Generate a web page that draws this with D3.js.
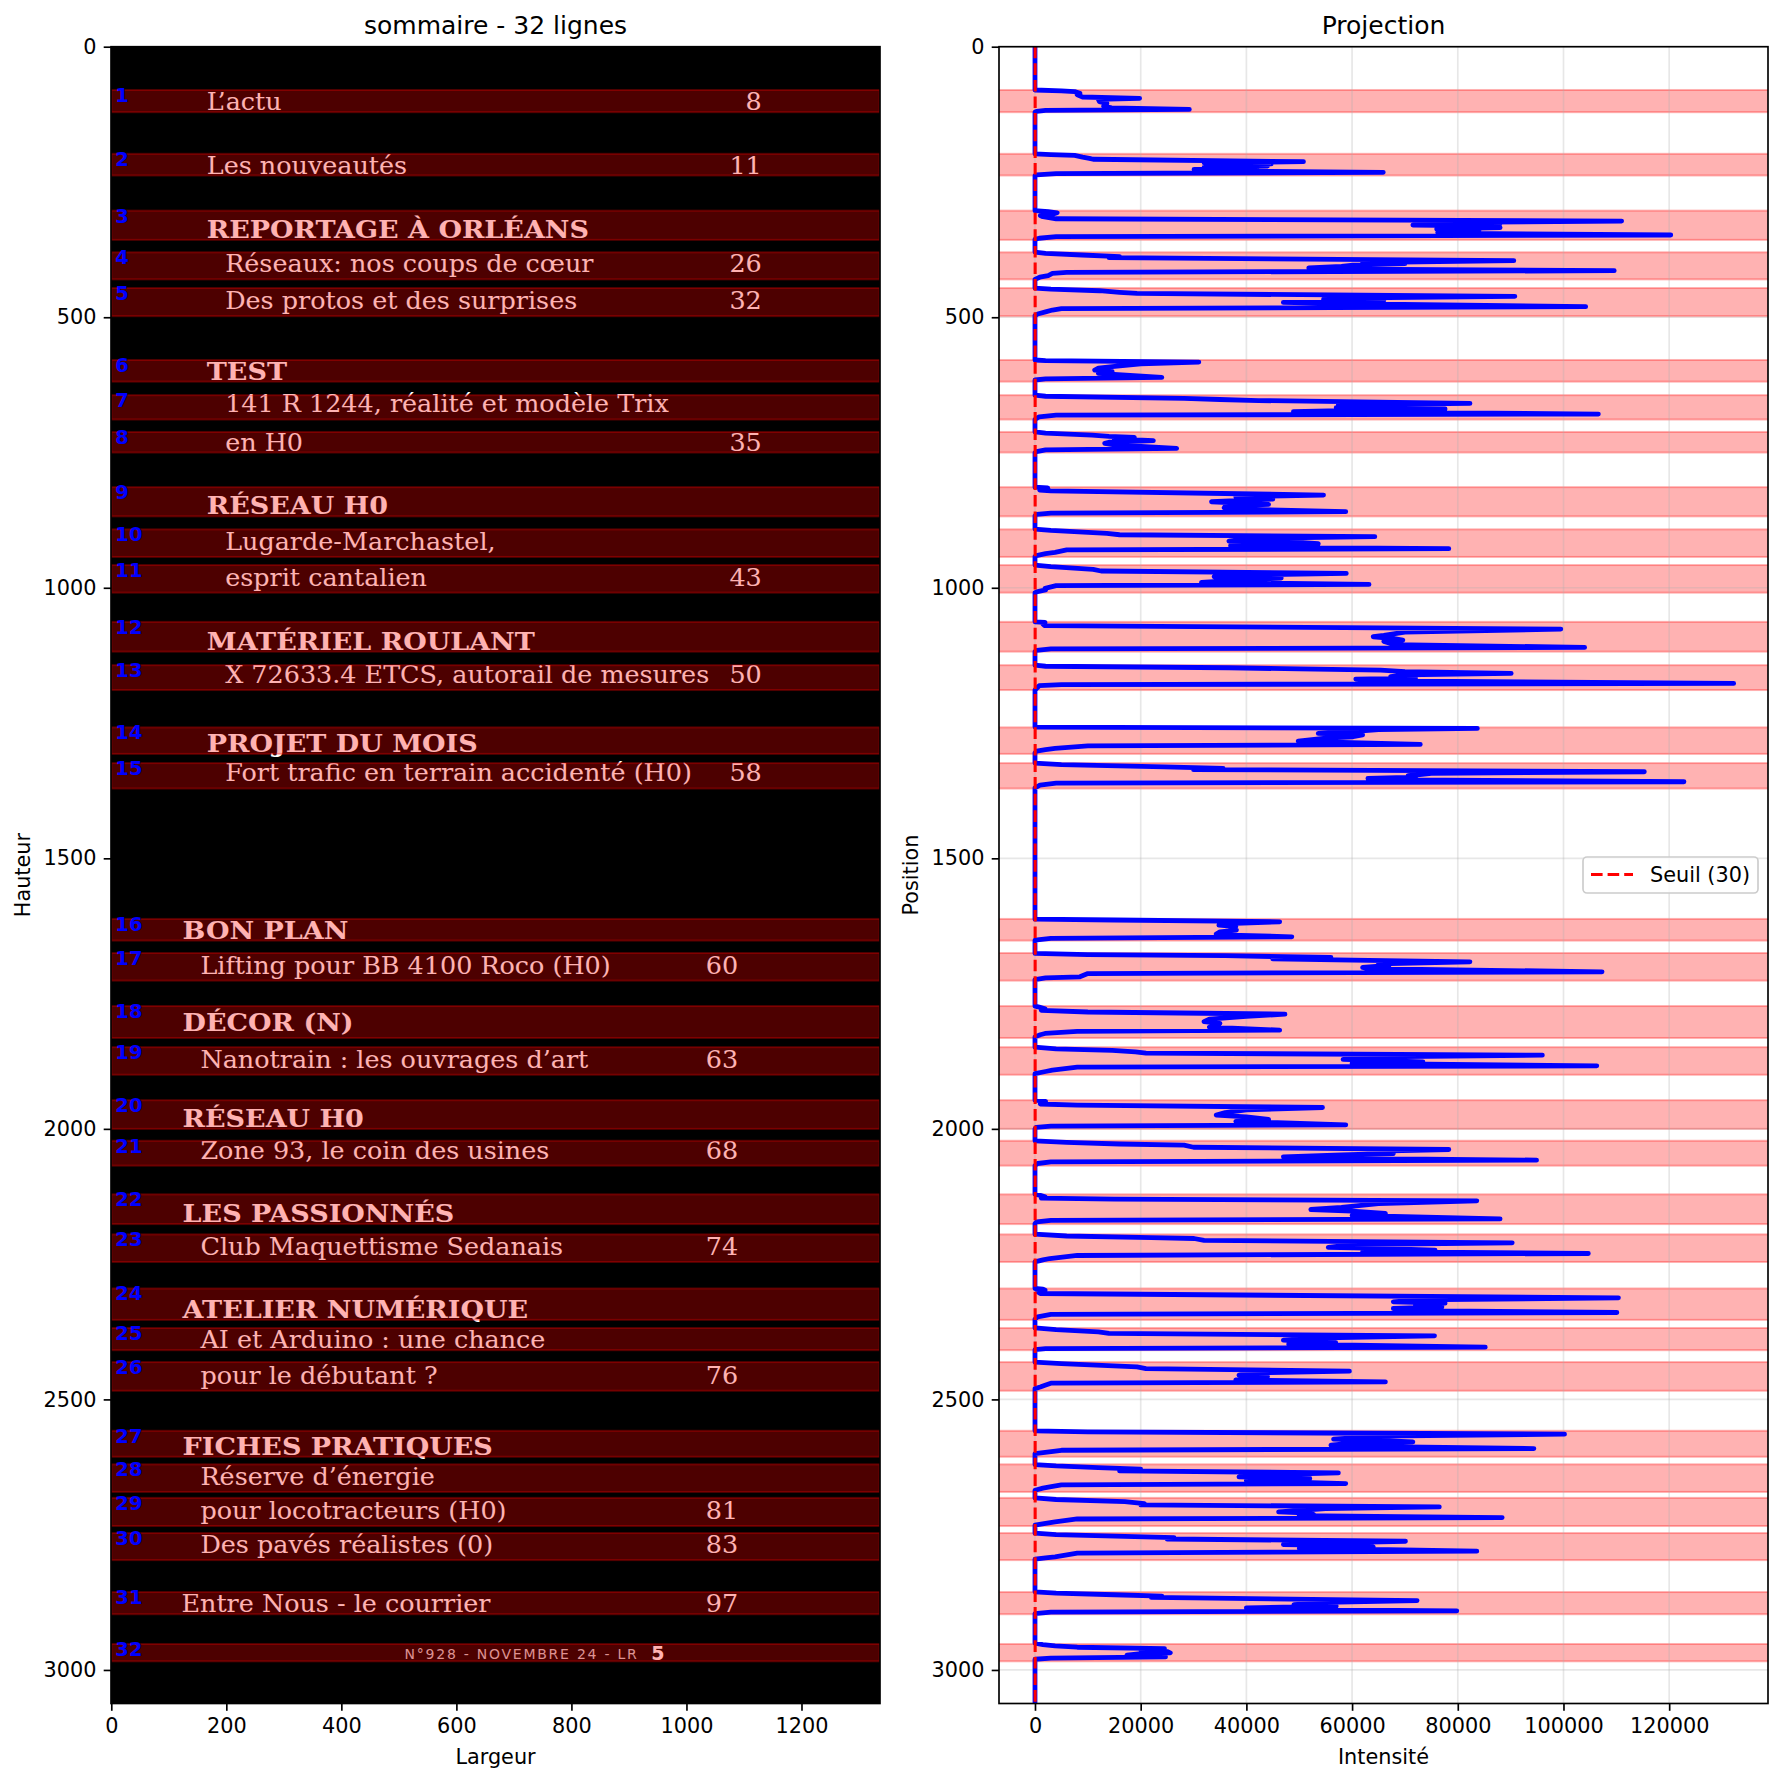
<!DOCTYPE html>
<html><head><meta charset="utf-8">
<script src="https://cdn.jsdelivr.net/npm/d3@7"></script>
<style>body{margin:0;background:#fff}</style>
</head><body>
<svg id="c" width="1783" height="1785" xmlns="http://www.w3.org/2000/svg"></svg>
<script>
// ---------------- DATA ----------------
const bandTop    = [80,198,303,380,446,579,644,712,814,892,958,1063,1143,1258,1324,1612,1675,1773,1849,1947,2022,2121,2195,2295,2368,2431,2558,2620,2682,2747,2856,2952];
const bandBottom = [121,238,357,430,498,619,689,750,868,943,1009,1118,1189,1307,1371,1652,1726,1832,1900,2000,2068,2176,2246,2353,2409,2484,2606,2671,2734,2797,2897,2984];
const rowText = [
 "L’actu","Les nouveautés","REPORTAGE À ORLÉANS","Réseaux: nos coups de cœur","Des protos et des surprises",
 "TEST","141 R 1244, réalité et modèle Trix","en H0","RÉSEAU H0","Lugarde-Marchastel,","esprit cantalien",
 "MATÉRIEL ROULANT","X 72633.4 ETCS, autorail de mesures","PROJET DU MOIS","Fort trafic en terrain accidenté (H0)",
 "BON PLAN","Lifting pour BB 4100 Roco (H0)","DÉCOR (N)","Nanotrain : les ouvrages d’art","RÉSEAU H0",
 "Zone 93, le coin des usines","LES PASSIONNÉS","Club Maquettisme Sedanais","ATELIER NUMÉRIQUE",
 "AI et Arduino : une chance","pour le débutant ?","FICHES PRATIQUES","Réserve d’énergie",
 "pour locotracteurs (H0)","Des pavés réalistes (0)","Entre Nous - le courrier","N°928 - NOVEMBRE 24 - LR"];
const rowPage = ["8","11","","26","32","","","35","","","43","","50","","58","","60","","63","","68","","74","","","76","","","81","83","97","5"];
const rowKind = ["top","top","head","sub","sub","head","sub","sub","head","sub","sub","head","sub","head","sub",
 "head","sub","head","sub","head","sub","head","sub","head","sub","sub","head","sub","sub","sub","top","foot"];
const imageWidth = 1337, imageHeight = 3062;
const threshold = 30;
const xTicksLeft = [0,200,400,600,800,1000,1200];
const yTicks = [0,500,1000,1500,2000,2500,3000];
const xTicksRight = [0,20000,40000,60000,80000,100000,120000];
// projection profile: [position, intensity]
const profile = [
 [0,0],
 [80,0],[81.5,5000],[83,7500],[86,8500],[89,8000],[93,9000],[95.4,19800],[97.5,12000],[101.6,12200],[104.7,13600],[110,13000],[113,14500],[115.8,29200],[117.5,2000],[119.5,300],[121,0],
 [198,0],[199.5,3000],[201,7500],[204,9000],[206.3,10300],[208,11000],[212.5,50800],[214.5,32000],[216.5,44700],[218.5,34000],[220.5,44000],[223,32000],[225,42000],[226.7,30100],[229,31000],[232.2,65900],[234.5,4000],[237,300],[238.5,0],
 [303,0],[305,2500],[307,4200],[309,3500],[312,1000],[314.2,1500],[318,4000],[322.2,111000],[325,72000],[327,88000],[329.6,71500],[331,85000],[334.5,88000],[337,76000],[340,84000],[343.1,76200],[345,80000],[348,120300],[351,4000],[354,800],[356,0],
 [379.5,0],[382,2000],[385,8900],[388,16000],[390,14000],[395.5,90600],[399,62000],[401,70000],[403.5,60200],[406,58000],[409,51800],[411,60000],[414,109600],[417,6000],[419,3300],[423,2500],[426,900],[430,0],
 [446,0],[448,3000],[451,12200],[454,16000],[456,19300],[461.4,90800],[464,62000],[466.9,54600],[469,66000],[471,60000],[472.5,47000],[475,58000],[480.5,104200],[484,5000],[486.7,3300],[490,2000],[494,500],[497,0],
 [579,0],[580,2000],[582.8,31000],[586,20000],[591.4,14600],[594,12000],[597.6,11300],[600,14600],[603.7,12000],[611.1,24000],[614,2000],[616,0],
 [644,0],[646,2000],[649.9,28200],[652,35000],[654,42300],[659.2,82300],[662,57400],[665.3,64000],[667,57000],[669.6,77600],[672,60000],[674.6,48900],[678.9,106600],[681,4000],[684,800],[689,0],
 [712,0],[714,2000],[717.7,10800],[720,14000],[722,18800],[725,15000],[728.2,22400],[731,14000],[733.1,13200],[736,15000],[742.3,26800],[745,2000],[748.5,300],[750.5,0],
 [814,0],[815.5,2400],[817,1500],[819.4,900],[821,3000],[828.6,54600],[832,38000],[836,45000],[841,33400],[845.9,44200],[849,36000],[852,35800],[855,40000],[859.4,58800],[862,3000],[864.4,300],[867,0],
 [891.5,0],[894,3000],[899.5,13600],[902,16000],[905.6,64300],[909,40000],[913.7,36700],[916,50000],[918.6,53600],[922.3,37000],[925,38000],[927.8,78300],[930,6000],[934.6,3800],[937,2000],[940,500],[942,0],
 [958,0],[961,3000],[966,11000],[969,12500],[973.4,58900],[977,36000],[979.6,33900],[982,46600],[985,40000],[990,31500],[993.7,63200],[996,4000],[1001,1900],[1004,2000],[1007,500],[1009,0],
 [1063,0],[1064,1900],[1067,1500],[1070,1800],[1076.3,99500],[1082,70000],[1088,66000],[1090.5,64000],[1094,68000],[1096.6,69600],[1099,66000],[1102.8,67300],[1105,68000],[1110.2,104000],[1113,3000],[1115.7,300],[1118,0],
 [1143,0],[1145,2000],[1147.8,36700],[1150,50000],[1152.1,65400],[1155,70000],[1158.2,90100],[1161,70000],[1164.4,67300],[1167,72000],[1168.7,60700],[1172,65000],[1176.7,132200],[1179,5000],[1181,800],[1189,0],
 [1257.4,0],[1259.9,83700],[1262,65000],[1266,60000],[1269.1,53600],[1272,62000],[1275.3,60200],[1278,55000],[1283.3,49800],[1286,60000],[1289.5,72900],[1292,10000],[1296.9,3800],[1299,2000],[1301.8,300],[1305,0],
 [1324,0],[1327,5000],[1330.8,24500],[1333.8,35600],[1336,30000],[1340,115300],[1343,75000],[1347.4,70600],[1350,72000],[1352.3,63000],[1355,70000],[1358.5,122800],[1361,4000],[1364.6,940],[1369.6,0],
 [1612.4,0],[1614,15000],[1617.3,46300],[1620,38000],[1623.5,34800],[1626,38000],[1629,37000],[1632.7,38100],[1636,35000],[1640.1,34300],[1642,37000],[1645,48600],[1648,3000],[1651.2,0],
 [1675.8,0],[1678,10000],[1680,36000],[1683.2,56000],[1686,45000],[1688,60000],[1691.2,82300],[1695,65000],[1698,67000],[1701.7,62000],[1704,63000],[1709.7,107300],[1713,10000],[1719,8500],[1721,2000],[1724,0],
 [1773.2,0],[1775,800],[1778,1900],[1781,1200],[1784,10000],[1788,47300],[1792,40000],[1797,33000],[1802,32000],[1805,35000],[1808.3,34000],[1812,33000],[1817.5,46300],[1820,8000],[1823.7,1900],[1826,1000],[1830,0],
 [1849,0],[1852,4000],[1855,14600],[1857.6,19000],[1860,21000],[1863.7,96000],[1867,65000],[1871.7,58300],[1874,66000],[1876.1,73400],[1879,60000],[1883.5,106300],[1886,8000],[1891.5,3300],[1894,2000],[1898,0],
 [1947,0],[1949,2000],[1951.8,1900],[1954,1000],[1956,8000],[1960.5,54400],[1965,40000],[1970,36000],[1974.6,34300],[1978,40000],[1982.6,44200],[1986,38000],[1992.5,58800],[1995,3000],[1997.4,200],[2000,0],
 [2022,0],[2025,6000],[2028,16000],[2030.1,28200],[2034,30000],[2038.1,78300],[2041,65000],[2045.5,67800],[2048,58000],[2051.6,47000],[2054,55000],[2057.8,94900],[2061,3000],[2064,500],[2068,0],
 [2120.7,0],[2123,1000],[2125.6,1900],[2128,1200],[2130,15000],[2133,83600],[2138,65000],[2145,58000],[2149,52200],[2152,60000],[2156.4,66300],[2160,60000],[2166.3,88000],[2169,3000],[2171.8,300],[2175,0],
 [2194.6,0],[2198,6000],[2201,22000],[2202.6,30100],[2206,32000],[2210.6,90300],[2214,60000],[2219.2,55500],[2221,65000],[2224.2,75700],[2227,62000],[2230.3,104700],[2234,8000],[2239.6,2800],[2242,1500],[2245.7,0],
 [2295,0],[2296,1500],[2298,1900],[2301,500],[2304.3,1000],[2312.3,110400],[2316,72000],[2319.7,67800],[2322,77600],[2325.9,72000],[2329,77000],[2332,67800],[2336,72000],[2339.4,110100],[2343,3000],[2347.4,500],[2352,0],
 [2367.8,0],[2371,4000],[2375.2,12000],[2378,14000],[2382.5,75600],[2386,55000],[2390.6,47000],[2393,52000],[2394.9,56900],[2398,48000],[2403.5,85200],[2406,2000],[2408,0],
 [2431.2,0],[2434,5000],[2439.8,19300],[2443,21000],[2447.9,59500],[2451,42000],[2455.2,38600],[2458,44000],[2461.4,43000],[2464,38000],[2467.6,66300],[2470,3000],[2473.7,1900],[2477,1000],[2480,0],
 [2558.1,0],[2560,10000],[2564.3,100200],[2568,65000],[2573.5,56500],[2576,66000],[2578.5,71500],[2581,60000],[2584.6,56000],[2587,62000],[2590.8,94400],[2594,5000],[2600,0],
 [2620.4,0],[2623,4000],[2626,12000],[2629,20000],[2632,16000],[2635.8,57400],[2639,45000],[2643.2,38600],[2646.2,52000],[2650,40000],[2655.5,58800],[2658,5000],[2661.6,2800],[2664,1500],[2667.8,0],
 [2682,0],[2685,4000],[2689,17000],[2692.4,20700],[2695,20000],[2698.6,76500],[2702,55000],[2707.9,46100],[2710,52000],[2712.8,52700],[2715,50000],[2718.3,88400],[2721,8000],[2726.3,3800],[2729,2000],[2732.5,0],
 [2747.3,0],[2750,4000],[2753,17000],[2755.3,26300],[2758,25000],[2762.1,70100],[2765,56000],[2768.2,47000],[2770,60000],[2772.5,64000],[2775,50000],[2780.5,83600],[2784,8000],[2791,3800],[2793,2000],[2795.3,0],
 [2855.7,0],[2858,4000],[2861,15000],[2863.7,24000],[2866,22000],[2871.7,72300],[2875,55000],[2879.1,49000],[2882,57000],[2885.3,40000],[2888,45000],[2890.8,79800],[2893,3000],[2895.8,0],
 [2950.6,0],[2953,1500],[2955.5,3800],[2958,8000],[2960.4,24500],[2963,20000],[2966,25000],[2968.5,25600],[2970,20000],[2972.8,17400],[2975.9,24700],[2978,3000],[2980.2,0],
 [3062,0]
];

// ---------------- LAYOUT ----------------
const svg = d3.select('#c');
const SANS = '"DejaVu Sans", sans-serif';
const SERIF = '"DejaVu Serif", serif';
const LA = {x0:111, x1:880, y0:46.7, y1:1703.5};
const RA = {x0:999, x1:1768, y0:46.7, y1:1703.5};
const FS = 20.8, TICK = 7.3, SPW = 1.67;

const xL = d3.scaleLinear().domain([-0.5, imageWidth - 0.5]).range([LA.x0, LA.x1]);
const yS = d3.scaleLinear().domain([0, imageHeight]).range([LA.y0, LA.y1]);
const xR = d3.scaleLinear().domain([-6810, 138700]).range([RA.x0, RA.x1]);

const defs = svg.append('defs');
defs.append('clipPath').attr('id','clipL').append('rect')
  .attr('x',LA.x0).attr('y',LA.y0).attr('width',LA.x1-LA.x0).attr('height',LA.y1-LA.y0);
defs.append('clipPath').attr('id','clipR').append('rect')
  .attr('x',RA.x0).attr('y',RA.y0).attr('width',RA.x1-RA.x0).attr('height',RA.y1-RA.y0);

// ===== LEFT PANEL (image) =====
const gL = svg.append('g').attr('clip-path','url(#clipL)');
gL.append('rect').attr('x',LA.x0).attr('y',LA.y0).attr('width',LA.x1-LA.x0).attr('height',LA.y1-LA.y0).attr('fill','#000');

const descRe = /[gjpqyç,;()]/;
rowText.forEach((t,i)=>{
  const kind = rowKind[i];
  const lower = bandTop[i] > 1500;
  const base = descRe.test(t) ? bandBottom[i] - 13 : bandBottom[i] - 3.5;
  const by = yS(base);
  if (kind === 'foot') {
    gL.append('text').attr('x', xL(510)).attr('y', yS(2979)).text(t)
      .attr('font-family', SANS).attr('font-size', 14).attr('letter-spacing', 1.75).attr('fill', '#d0d0d0');
    gL.append('text').attr('x', xL(939)).attr('y', yS(2981)).text(rowPage[i])
      .attr('font-family', SANS).attr('font-weight','bold').attr('font-size', 19).attr('fill', '#fff');
    return;
  }
  let ux;
  if (kind === 'head') ux = lower ? 124 : 166;
  else if (kind === 'top') ux = lower ? 122 : 166;
  else ux = lower ? 155 : 198;
  const bold = kind === 'head';
  const sx = bold ? 1.125 : 1.06;
  gL.append('text')
    .attr('transform', `translate(${xL(ux)},${by}) scale(${sx},1)`)
    .attr('font-family', SERIF).attr('font-weight', bold ? 'bold' : 'normal')
    .attr('font-size', 24).attr('fill', '#fff').text(t);
  if (rowPage[i]) {
    gL.append('text')
      .attr('transform', `translate(${xL(lower ? 1090 : 1131)},${by}) scale(1.06,1)`)
      .attr('text-anchor','end')
      .attr('font-family', SERIF).attr('font-size', 24).attr('fill', '#fff').text(rowPage[i]);
  }
});
// overlay rectangles
gL.selectAll('rect.band').data(bandTop).enter().append('rect').attr('class','band')
  .attr('x', xL(0)).attr('width', xL(imageWidth-1) - xL(0))
  .attr('y', (d)=>yS(d)).attr('height', (d,i)=>yS(bandBottom[i]) - yS(d))
  .attr('fill','red').attr('fill-opacity',0.3)
  .attr('stroke','red').attr('stroke-opacity',0.3).attr('stroke-width',2);
// blue numbers
gL.selectAll('text.num').data(bandTop).enter().append('text').attr('class','num')
  .attr('x', xL(7)).attr('y', d => yS(d) + 12)
  .attr('font-family', SANS).attr('font-weight','bold').attr('font-size', 19.5)
  .attr('fill', 'blue').text((d,i)=> i+1);

// ===== RIGHT PANEL =====
const gR = svg.append('g').attr('clip-path','url(#clipR)');
gR.selectAll('rect.band').data(bandTop).enter().append('rect').attr('class','band')
  .attr('x', RA.x0 - 5).attr('width', RA.x1 - RA.x0 + 10)
  .attr('y', d=>yS(d)).attr('height', (d,i)=>yS(bandBottom[i]) - yS(d))
  .attr('fill','red').attr('fill-opacity',0.3)
  .attr('stroke','red').attr('stroke-opacity',0.3).attr('stroke-width',2);
// grid
xTicksRight.forEach(v=>{
  gR.append('line').attr('x1',xR(v)).attr('x2',xR(v)).attr('y1',RA.y0).attr('y2',RA.y1)
    .attr('stroke','#b0b0b0').attr('stroke-opacity',0.3).attr('stroke-width',1.67);
});
yTicks.forEach(v=>{
  gR.append('line').attr('x1',RA.x0).attr('x2',RA.x1).attr('y1',yS(v)).attr('y2',yS(v))
    .attr('stroke','#b0b0b0').attr('stroke-opacity',0.3).attr('stroke-width',1.67);
});
// profile line
const line = d3.line().x(d=>xR(d[1])).y(d=>yS(d[0]));
gR.append('path').datum(profile).attr('d', line)
  .attr('fill','none').attr('stroke','blue').attr('stroke-width',4.8)
  .attr('stroke-linejoin','round').attr('stroke-linecap','round');
// threshold
gR.append('line').attr('x1',xR(threshold)).attr('x2',xR(threshold)).attr('y1',RA.y0).attr('y2',RA.y1)
  .attr('stroke','red').attr('stroke-width',3.1).attr('stroke-dasharray','11.6,5');

// ===== AXES =====
function spines(A){
  svg.append('rect').attr('x',A.x0).attr('y',A.y0).attr('width',A.x1-A.x0).attr('height',A.y1-A.y0)
    .attr('fill','none').attr('stroke','#000').attr('stroke-width',SPW);
}
function styleAxis(g){
  g.select('.domain').remove();
  g.selectAll('.tick line').attr('stroke','#000').attr('stroke-width',SPW);
  g.selectAll('.tick text').attr('font-family',SANS).attr('font-size',FS).attr('fill','#000');
}
spines(LA); spines(RA);
styleAxis(svg.append('g').attr('transform',`translate(0,${LA.y1})`)
  .call(d3.axisBottom(xL).tickValues(xTicksLeft).tickSize(TICK).tickPadding(7.3).tickFormat(d3.format('d'))));
styleAxis(svg.append('g').attr('transform',`translate(${LA.x0},0)`)
  .call(d3.axisLeft(yS).tickValues(yTicks).tickSize(TICK).tickPadding(7.3).tickFormat(d3.format('d'))));
styleAxis(svg.append('g').attr('transform',`translate(0,${RA.y1})`)
  .call(d3.axisBottom(xR).tickValues(xTicksRight).tickSize(TICK).tickPadding(7.3).tickFormat(d3.format('d'))));
styleAxis(svg.append('g').attr('transform',`translate(${RA.x0},0)`)
  .call(d3.axisLeft(yS).tickValues(yTicks).tickSize(TICK).tickPadding(7.3).tickFormat(d3.format('d'))));

// titles & labels
svg.append('text').attr('x',(LA.x0+LA.x1)/2).attr('y',34).attr('text-anchor','middle')
  .attr('font-family',SANS).attr('font-size',25).text('sommaire - 32 lignes');
svg.append('text').attr('x',(RA.x0+RA.x1)/2).attr('y',34).attr('text-anchor','middle')
  .attr('font-family',SANS).attr('font-size',25).text('Projection');
svg.append('text').attr('x',(LA.x0+LA.x1)/2).attr('y',1764).attr('text-anchor','middle')
  .attr('font-family',SANS).attr('font-size',FS).text('Largeur');
svg.append('text').attr('x',(RA.x0+RA.x1)/2).attr('y',1764).attr('text-anchor','middle')
  .attr('font-family',SANS).attr('font-size',FS).text('Intensité');
svg.append('text').attr('transform',`translate(30,${(LA.y0+LA.y1)/2}) rotate(-90)`).attr('text-anchor','middle')
  .attr('font-family',SANS).attr('font-size',FS).text('Hauteur');
svg.append('text').attr('transform',`translate(918,${(RA.y0+RA.y1)/2}) rotate(-90)`).attr('text-anchor','middle')
  .attr('font-family',SANS).attr('font-size',FS).text('Position');

// legend
const lg = svg.append('g');
lg.append('rect').attr('x',1583).attr('y',857).attr('width',175).attr('height',36).attr('rx',4)
  .attr('fill','#fff').attr('fill-opacity',0.8).attr('stroke','#cccccc').attr('stroke-width',1.67);
lg.append('line').attr('x1',1591).attr('x2',1633).attr('y1',874.5).attr('y2',874.5)
  .attr('stroke','red').attr('stroke-width',3.1).attr('stroke-dasharray','11.6,5');
lg.append('text').attr('x',1650).attr('y',882).attr('font-family',SANS).attr('font-size',FS).text(`Seuil (${threshold})`);
</script>
</body></html>
